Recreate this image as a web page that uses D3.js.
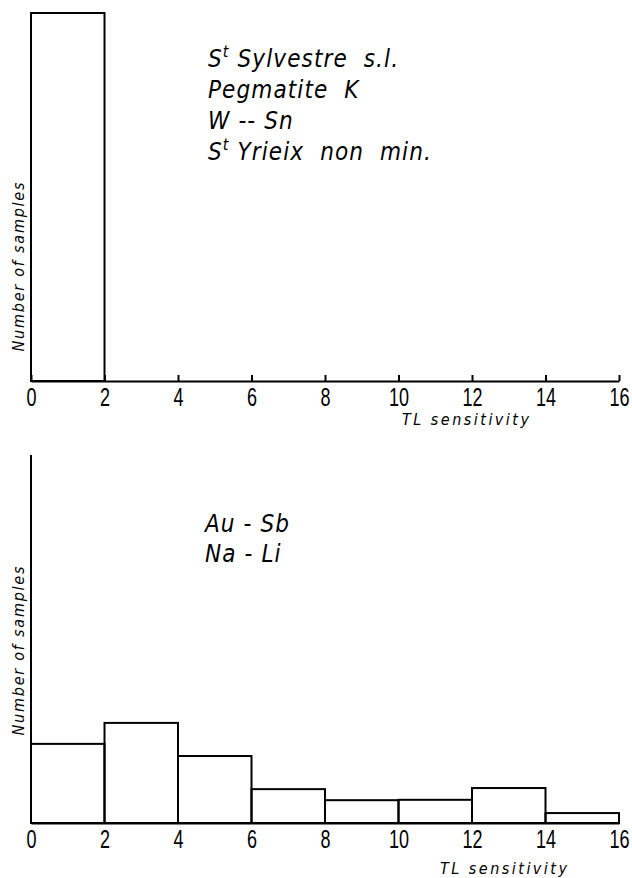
<!DOCTYPE html>
<html>
<head>
<meta charset="utf-8">
<script src="https://cdn.jsdelivr.net/npm/d3@7"></script>
<style>
  body { margin: 0; background: #fff; }
  svg { display: block; }
  text { fill: #000; }
  .lettering { font-family: "DejaVu Sans Condensed", "Liberation Sans Narrow", "DejaVu Sans", sans-serif; font-stretch: condensed; }
  .note { font-style: italic; font-size: 24px; letter-spacing: 1.1px; white-space: pre; }
  .axis-title { font-style: italic; font-size: 16px; white-space: pre; }
</style>
</head>
<body>
<div id="chart"></div>
<script>
// bin edges of TL sensitivity (x axis)
const binEdges = [0, 2, 4, 6, 8, 10, 12, 14, 16];
const tickValues = [0, 2, 4, 6, 8, 10, 12, 14, 16];

// share of samples per bin, in percent
const topValues = [100, 0, 0, 0, 0, 0, 0, 0];
const bottomValues = [21.5, 27.2, 18.2, 9.2, 6.2, 6.3, 9.5, 2.7];

// annotation lines; "^t" marks the raised t of "Saint"
const topNotes = ["S^t Sylvestre  s.l.", "Pegmatite  K", "W -- Sn", "S^t Yrieix  non  min."];
const bottomNotes = ["Au - Sb", "Na - Li"];

const width = 632;
const height = 878;

const svg = d3.select("#chart").append("svg")
  .attr("width", width)
  .attr("height", height)
  .attr("class", "lettering");

const x = d3.scaleLinear().domain([0, 16]).range([31, 619]);

// Draw one histogram panel
function drawPanel(values, notes, top, bottom, opts) {
  const y = d3.scaleLinear().domain([0, 100]).range([bottom, top]);
  const g = svg.append("g");

  const bins = values.map((v, i) => ({ x0: binEdges[i], x1: binEdges[i + 1], v }));

  // bars
  g.selectAll("rect.bar")
    .data(bins.filter((d) => d.v > 0))
    .enter()
    .append("rect")
    .attr("class", "bar")
    .attr("x", (d) => x(d.x0))
    .attr("y", (d) => y(d.v))
    .attr("width", (d) => x(d.x1) - x(d.x0))
    .attr("height", (d) => y(0) - y(d.v))
    .attr("fill", "none")
    .attr("stroke", "#000")
    .attr("stroke-width", 2);

  // y axis line (no ticks)
  if (opts.yAxis) {
    g.append("line")
      .attr("x1", x(0)).attr("x2", x(0))
      .attr("y1", y(100)).attr("y2", y(0))
      .attr("stroke", "#000")
      .attr("stroke-width", 2);
  }

  // x axis
  const axis = d3.axisBottom(x)
    .tickValues(tickValues)
    .tickFormat(d3.format("d"))
    .tickSizeInner(opts.tickUp ? -6 : 0)
    .tickSizeOuter(0)
    .tickPadding(7);

  const ax = g.append("g")
    .attr("transform", `translate(0,${bottom})`)
    .call(axis);
  ax.select(".domain").attr("stroke", "#000").attr("stroke-width", 2);
  ax.selectAll(".tick line").attr("stroke", "#000").attr("stroke-width", 2);
  ax.selectAll(".tick text")
    .attr("fill", "#000")
    .attr("transform", "scale(0.72,1)")
    .style("font-family", "inherit")
    .style("font-size", "25px");

  // axis titles
  g.append("text")
    .attr("class", "axis-title")
    .attr("transform", `translate(24,${opts.yTitleMid}) rotate(-90)`)
    .attr("text-anchor", "middle")
    .attr("textLength", 169)
    .attr("lengthAdjust", "spacing")
    .style("font-size", "16px")
    .text("Number of samples");

  g.append("text")
    .attr("class", "axis-title")
    .attr("x", opts.titleX)
    .attr("y", opts.titleY)
    .attr("textLength", 127)
    .attr("lengthAdjust", "spacing")
    .text("TL sensitivity");

  // annotation block
  const note = g.append("text")
    .attr("class", "note")
    .attr("x", opts.noteX)
    .attr("y", opts.noteY);

  notes.forEach((line, i) => {
    const row = note.append("tspan")
      .attr("x", opts.noteX)
      .attr("y", opts.noteY + opts.noteGap * i);
    line.split("^t").forEach((part, j) => {
      if (j > 0) {
        row.append("tspan").attr("dy", -10).style("font-size", "16px").text("t");
        row.append("tspan").attr("dy", 10).text(part);
      } else {
        row.append("tspan").text(part);
      }
    });
  });
}

drawPanel(topValues, topNotes, 13, 381, {
  yAxis: false, tickUp: true,
  yTitleMid: 267,
  titleX: 402, titleY: 425,
  noteX: 208, noteY: 67, noteGap: 31
});

drawPanel(bottomValues, bottomNotes, 455, 823, {
  yAxis: true, tickUp: false,
  yTitleMid: 651,
  titleX: 440, titleY: 874,
  noteX: 205, noteY: 532, noteGap: 30
});
</script>
</body>
</html>
